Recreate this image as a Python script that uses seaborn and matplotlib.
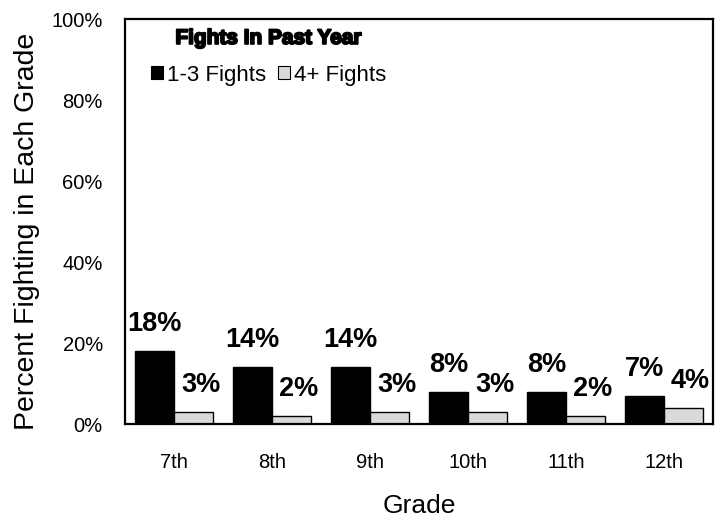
import matplotlib
matplotlib.use("Agg")
import matplotlib.pyplot as plt
import matplotlib.patheffects as pe
import seaborn as sns
import pandas as pd
from matplotlib.patches import Patch

grades = ["7th", "8th", "9th", "10th", "11th", "12th"]
fights_1_3 = [18, 14, 14, 8, 8, 7]
fights_4_plus = [3, 2, 3, 3, 2, 4]
series_names = ["1-3 Fights", "4+ Fights"]
yticks = [0, 20, 40, 60, 80, 100]

df = pd.DataFrame({
    "Grade": grades * 2,
    "Percent": fights_1_3 + fights_4_plus,
    "Series": [series_names[0]] * len(grades) + [series_names[1]] * len(grades),
})

sns.set_theme(style="white")
plt.rcParams["font.family"] = ["Liberation Sans", "DejaVu Sans"]
plt.rcParams["text.color"] = "black"
plt.rcParams["axes.labelcolor"] = "black"
plt.rcParams["xtick.color"] = "black"
plt.rcParams["ytick.color"] = "black"

fig = plt.figure(figsize=(7.2, 5.22), dpi=100)
ax = fig.add_axes([0.1736, 0.1877, 0.8167, 0.7759])

colors = {"1-3 Fights": "#000000", "4+ Fights": "#d9d9d9"}
sns.barplot(data=df, x="Grade", y="Percent", hue="Series", order=grades,
            hue_order=series_names, palette=colors, width=0.8,
            edgecolor="black", linewidth=1.0, ax=ax, legend=False)

# value labels above each bar; the light series sits slightly to the right
for container, dx in zip(ax.containers, [0, 5]):
    for bar in container:
        h = bar.get_height()
        ax.annotate(f"{int(round(h))}%", (bar.get_x() + bar.get_width() / 2, h),
                    xytext=(dx, 10), textcoords="offset points",
                    ha="center", va="bottom", fontsize=19.5,
                    fontweight="bold", color="black")

ax.set_ylim(0, 100)
ax.set_yticks(yticks)
ax.set_yticklabels([f"{t}%" for t in yticks], fontsize=14.5)
ax.tick_params(axis="x", labelsize=14.5, pad=21, length=0)
ax.tick_params(axis="y", length=0, pad=16)
ax.set_xlim(-0.5, 5.5)
ax.set_xlabel("Grade", fontsize=19)
ax.set_ylabel("Percent Fighting in Each Grade", fontsize=20.5)
ax.xaxis.set_label_coords(0.5, -0.172)
ax.yaxis.set_label_coords(-0.145, 0.475)

for s in ax.spines.values():
    s.set_visible(True)
    s.set_color("black")
    s.set_linewidth(1.6)

handles = [Patch(facecolor=colors[n], edgecolor="black", linewidth=0.8, label=n)
           for n in series_names]
leg = ax.legend(handles=handles, title="Fights In Past Year", loc="upper left",
                bbox_to_anchor=(0.0098, 1.025), ncol=2, frameon=False, fontsize=16,
                handlelength=0.55, handleheight=0.5, handletextpad=0.2,
                columnspacing=0.5, borderpad=0.4,
                title_fontproperties={"weight": "bold", "size": 15})
leg.get_title().set_path_effects([pe.withStroke(linewidth=1.4, foreground="black")])
leg._legend_box.sep = 12

fig.savefig("out.png", dpi=100)
